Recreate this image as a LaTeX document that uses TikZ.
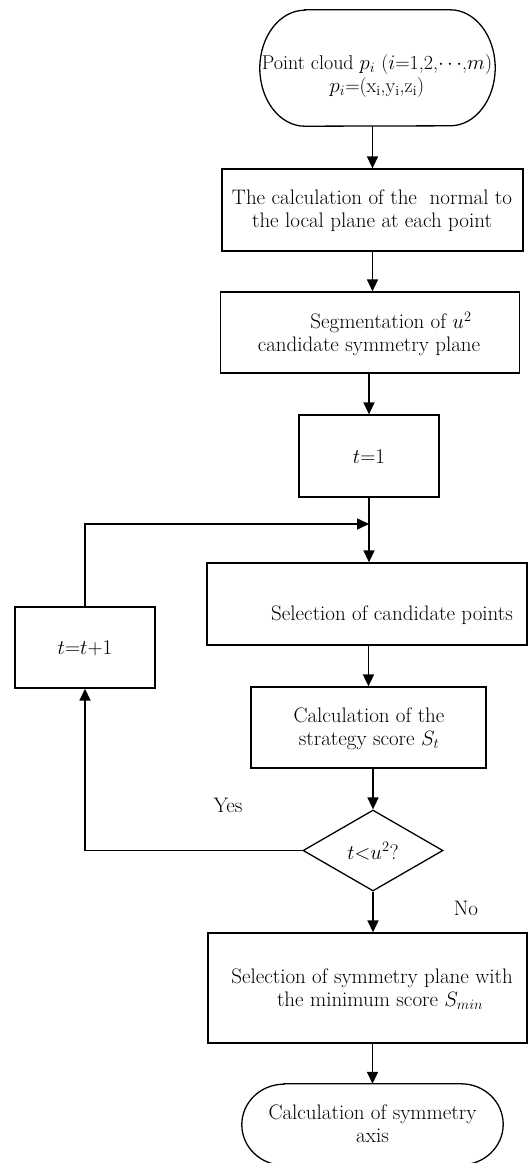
\documentclass[tikz,border=0pt]{standalone}
\usetikzlibrary{arrows.meta,shapes.geometric,calc}
\begin{document}
\begin{tikzpicture}[x=1pt,y=-1pt,
  every node/.style={font=\fontsize{21}{23}\selectfont},
  box/.style={draw,line width=1.3pt,inner sep=0pt},
  termbox/.style={inner sep=0pt},
  termline/.style={line width=1.3pt},
  dia/.style={draw,line width=1.3pt,shape=diamond,inner sep=0pt,aspect=1.73},
  txt/.style={inner sep=0pt,align=center},
  arr/.style={line width=1.6pt,-{Triangle[length=12pt,width=11pt]}},
  lbl/.style={inner sep=0pt}]
\clip (0,0) rectangle (528,1163);
% start terminal
\node[termbox,minimum width=235pt,minimum height=116pt] (start) at (377.5,68) {};
\draw[termline] ($(start.north west)+(45,0)$) -- ($(start.north east)+(-45,0)$)
  arc[start angle=-90,end angle=90,x radius=45,y radius=58]
  -- ($(start.south west)+(45,0)$)
  arc[start angle=90,end angle=270,x radius=45,y radius=58] -- cycle;
\node[txt,font=\fontsize{20}{23}\selectfont] (startT) at (377,76) {Point cloud $p_i$ ($i$=1,2,$\cdots$,$m$)\\$p_i$=(x\textsubscript{i},y\textsubscript{i},z\textsubscript{i})};
\node[box,minimum width=301pt,minimum height=82pt] (b1) at (372.5,210) {};
\node[txt] (b1T) at (372,211) {The calculation of the\ \ normal to\\the local plane at each point};
\node[box,minimum width=299pt,minimum height=81pt] (b2) at (370,332.5) {};
\node[txt] (b2T) at (369,334) {\hspace*{44pt}Segmentation of $u^2$\\candidate symmetry plane};
\node[box,minimum width=140pt,minimum height=82pt] (t1) at (369,456) {};
\node[txt] (t1T) at (369,457) {$t$=1};
\coordinate (join) at (369,524);
\node[box,minimum width=320pt,minimum height=82pt] (cand) at (367,604) {};
\node[txt] (candT) at (392,615) {Selection of candidate points};
\node[box,minimum width=140pt,minimum height=81pt] (tinc) at (85,647.5) {};
\node[txt] (tincT) at (85,648) {$t$=$t$+1};
\node[box,minimum width=235pt,minimum height=81pt] (score) at (368.5,727.5) {};
\node[txt] (scoreT) at (369,729) {Calculation of the\\strategy score $S_t$};
\node[dia,minimum width=140pt,minimum height=81pt] (d) at (373,850.5) {};
\node[txt] (dT) at (373,851) {$t{<}u^2$?};
\node[lbl] (yes) at (228,805) {Yes};
\node[lbl] (no) at (466,908) {No};
\node[box,minimum width=319pt,minimum height=110pt] (sym) at (367.5,988) {};
\node[txt] (symT) at (372,989) {Selection of symmetry plane with\\\hspace*{16pt}the minimum score $S_{min}$};
% end terminal
\node[termbox,minimum width=261pt,minimum height=81pt] (end) at (372.5,1124.5) {};
\draw[termline] ($(end.north west)+(42,0)$) -- ($(end.north east)+(-42,0)$)
  arc[start angle=-90,end angle=90,x radius=42,y radius=40.5]
  -- ($(end.south west)+(42,0)$)
  arc[start angle=90,end angle=270,x radius=42,y radius=40.5] -- cycle;
\node[txt] (endT) at (372.5,1124) {Calculation of symmetry\\axis};
% connectors
\draw[arr] (start.south -| b1.north) -- (b1.north);
\draw[arr] (b1.south) -- (b1.south |- b2.north);
\draw[arr] (b2.south -| t1.north) -- (t1.north);
\draw[arr] (t1.south) -- (t1.south |- cand.north);
\draw[arr] (d.west) -| (tinc.south);
\draw[arr] (tinc.north) |- (join);
\draw[arr] (cand.south -| score.north) -- (score.north);
\draw[arr] (score.south -| d.north) -- (d.north);
\draw[arr] (d.south) -- (d.south |- sym.north);
\draw[arr] (sym.south -| end.north) -- (end.north);
\end{tikzpicture}
\end{document}
